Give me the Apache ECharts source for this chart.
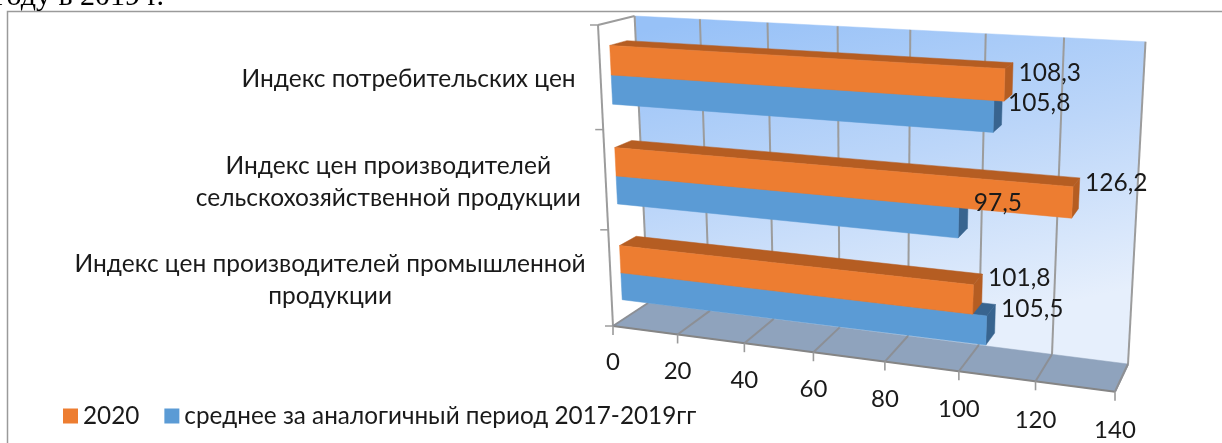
<!DOCTYPE html>
<html><head><meta charset="utf-8">
<style>html,body{margin:0;padding:0;background:#fff}#c{width:1222px;height:443px}</style>
<script src="https://cdn.jsdelivr.net/npm/echarts@6/dist/echarts.min.js"></script>
</head><body><div id="c"></div>
<script>
const categories = ['Индекс потребительских цен','Индекс цен производителей\nсельскохозяйственной продукции','Индекс цен производителей промышленной\nпродукции'];
const seriesNames = ['2020','среднее за аналогичный период 2017-2019гг'];
const values2020 = [108.3,126.2,101.8];
const valuesAvg = [105.8,97.5,105.5];
const tickValues = [0,20,40,60,80,100,120,140];
const valueLabels2020 = ['108,3','126,2','101,8'];
const valueLabelsAvg = ['105,8','97,5','105,5'];

const FONT = 'Lato, "Noto Sans", sans-serif';
const INK = '#1a1a1a';
// projection of the flat grid on to the 3D box
const FRONT = [[613,326],[1115,391.7],[598,25],[1135,54]];
const BACK  = [[648,303],[1128,364],[634.6,16],[1145.5,41.7]];
function homography(q){ // unit square -> quad (p00,p10,p01,p11)
  const [a,b,c,d]=q;
  const dx1=b[0]-d[0],dx2=c[0]-d[0],sx=a[0]-b[0]+d[0]-c[0];
  const dy1=b[1]-d[1],dy2=c[1]-d[1],sy=a[1]-b[1]+d[1]-c[1];
  const den=dx1*dy2-dx2*dy1;
  const g=(sx*dy2-dx2*sy)/den,h=(dx1*sy-sx*dy1)/den;
  return (u,w)=>{const k=g*u+h*w+1;
    return [((b[0]-a[0]+g*b[0])*u+(c[0]-a[0]+h*c[0])*w+a[0])/k,
            ((b[1]-a[1]+g*b[1])*u+(c[1]-a[1]+h*c[1])*w+a[1])/k];};
}
const hF=homography(FRONT),hB=homography(BACK);
function P3(u,w,d){const f=hF(u,w),b=hB(u,w);return [f[0]+(b[0]-f[0])*d,f[1]+(b[1]-f[1])*d];}
const D1=0.29,D2=0.76,BAR=0.285,SHIFT=-0.005;

function norm(params,api,v,cat){ // library scale -> unit coords
  const r=params.coordSys,p=api.coord([v,cat]);
  return [(p[0]-r.x)/r.width,1-(p[1]-r.y)/r.height,api.size([0,1])[1]/r.height];
}
function poly(points,fill,z2){return {type:'polygon',z2:z2||0,shape:{points},style:{fill,stroke:fill,lineWidth:0.5}};}
function line(a,b,color,w){return {type:'line',shape:{x1:a[0],y1:a[1],x2:b[0],y2:b[1]},style:{stroke:color,lineWidth:w||1.6}};}
function text(str,x,y,align,size,extra){return Object.assign({type:'text',style:{text:str,x,y,align,verticalAlign:'middle',font:size+'px '+FONT,fill:INK,lineHeight:32}},extra||{});}

const GRID='#9c9c9c';
function chrome(params,api){
  const v=api.value(0),r=params.coordSys;
  const u=(api.coord([v,0])[0]-r.x)/r.width;
  const kids=[];
  if(params.dataIndex===0){
    kids.push(poly([P3(0,0,1),P3(1,0,1),P3(1,1,1),P3(0,1,1)],
      new echarts.graphic.LinearGradient(0.15,0,0.3,1,[{offset:0,color:'#97c1f7'},{offset:0.5,color:'#bcd6f9'},{offset:1,color:'#e6effc'}])));
    kids.push(poly([P3(0,0,0),P3(1,0,0),P3(1,0,1),P3(0,0,1)],'#8fa3bd'));
    kids.push(line(P3(0,1,0),P3(0,0,0),GRID,2));
    kids.push(line(P3(0,1,0),P3(0,1,1),GRID,2));
    kids.push(line(P3(0,0,0),P3(1,0,0),'#858585',2));
    kids.push(line(P3(1,0,0),P3(1,0,1),'#a0a0a0',2));
    [0,1/3,2/3,1].forEach(w=>{const p=P3(0,w,0);kids.push(line([p[0]-8,p[1]],p,GRID,1.5));});
  }
  kids.push(line(P3(u,1,1),P3(u,0,1),GRID,2));
  kids.push(line(P3(u,0,1),P3(u,0,0),'#8c8f95',2));
  const f=P3(u,0,0);
  kids.push(line(f,[f[0],f[1]+9],'#9a9a9a',1.6));
  kids.push(text(String(v),f[0],f[1]+36+3*u,'center',24,{z2:5}));
  return {type:'group',children:kids};
}
function barItem(seriesIdx,colors){
  return function(params,api){
    const cat=api.value(0),v=api.value(1);
    const n=norm(params,api,v,cat),n0=norm(params,api,0,cat);
    const bw=n[2]*BAR,c=n[1]+n[2]*SHIFT;
    const lo=seriesIdx===0?c:c-bw,hi=lo+bw,u=n[0],u0=n0[0];
    const fa=P3(u0,lo,D1),fb=P3(u,lo,D1),fc=P3(u,hi,D1),fd=P3(u0,hi,D1);
    const bb=P3(u,lo,D2),bc=P3(u,hi,D2),bd=P3(u0,hi,D2);
    return {type:'group',children:[
      poly([fd,fc,bc,bd],colors[1]),
      poly([fb,bb,bc,fc],colors[2]),
      poly([fa,fb,fc,fd],colors[0])
    ]};
  };
}
const LABEL_DY=[-6,-10,-10];
function labelItem(seriesIdx,strs){
  return function(params,api){
    const cat=api.value(0),v=api.value(1);
    const n=norm(params,api,v,cat);
    const bw=n[2]*BAR,c=n[1]+n[2]*SHIFT;
    const mid=seriesIdx===0?c+bw/2:c-bw/2;
    const p=P3(n[0],mid,D2);
    return text(strs[cat],p[0]+6,p[1]+LABEL_DY[cat],'left',24.5);
  };
}
const measure=document.createElement('canvas').getContext('2d');
function catLabel(params,api){
  const i=api.value(0),n=norm(params,api,0,i);
  const p=P3(0,n[1],0);
  const s=categories[i];
  measure.font='24.5px '+FONT;
  const wid=Math.max(...s.split('\n').map(t=>measure.measureText(t).width));
  const right=p[0]-25;
  return {type:'text',style:{text:s,x:right-wid/2,y:p[1]+1.5,align:'center',verticalAlign:'middle',font:'24.5px '+FONT,fill:INK,lineHeight:32}};
}
const catData=categories.map((_,i)=>[i]);
const chart=echarts.init(document.getElementById('c'),null,{renderer:'canvas'});
chart.setOption({
  animation:false,
  backgroundColor:'#fff',
  graphic:[
    {type:'polyline',z:-1,shape:{points:[[7.5,443],[7.5,11.5],[1222,11.5]]},style:{stroke:'#9a9a9a',fill:null,lineWidth:1.5}},
    {type:'text',x:-5,y:-18,style:{text:'году в 2019 г.',font:'30px "Liberation Serif", serif',fill:'#000'}}
  ],
  legend:{data:seriesNames,left:58,top:399,itemWidth:15,itemHeight:15,itemGap:25,icon:'rect',
    textStyle:{fontFamily:'Lato, "Noto Sans", sans-serif',fontSize:24.3,color:INK}},
  grid:{left:620,top:40,width:500,height:300,show:false},
  xAxis:{type:'value',min:0,max:140,interval:20,show:false},
  yAxis:{type:'category',data:categories,inverse:true,show:false},
  series:[
    {type:'custom',name:'wall',coordinateSystem:'cartesian2d',data:tickValues.map(v=>[v]),encode:{x:0},renderItem:chrome,silent:true,clip:false},
    {type:'custom',name:seriesNames[1],itemStyle:{color:'#5b9bd5'},coordinateSystem:'cartesian2d',data:valuesAvg.map((v,i)=>[i,v]),encode:{y:0,x:1},renderItem:barItem(1,['#5b9bd5','#38648f','#38648f']),clip:false},
    {type:'custom',name:seriesNames[0],itemStyle:{color:'#ed7d31'},coordinateSystem:'cartesian2d',data:values2020.map((v,i)=>[i,v]),encode:{y:0,x:1},renderItem:barItem(0,['#ed7d31','#b55d22','#b55d22']),clip:false},
    {type:'custom',name:'labelsAvg',coordinateSystem:'cartesian2d',data:valuesAvg.map((v,i)=>[i,v]),encode:{y:0,x:1},renderItem:labelItem(1,valueLabelsAvg),z:5,silent:true,clip:false},
    {type:'custom',name:'labels2020',coordinateSystem:'cartesian2d',data:values2020.map((v,i)=>[i,v]),encode:{y:0,x:1},renderItem:labelItem(0,valueLabels2020),z:5,silent:true,clip:false},
    {type:'custom',name:'cats',coordinateSystem:'cartesian2d',data:catData,encode:{y:0},renderItem:catLabel,z:5,silent:true,clip:false}
  ]
});
</script></body></html>
